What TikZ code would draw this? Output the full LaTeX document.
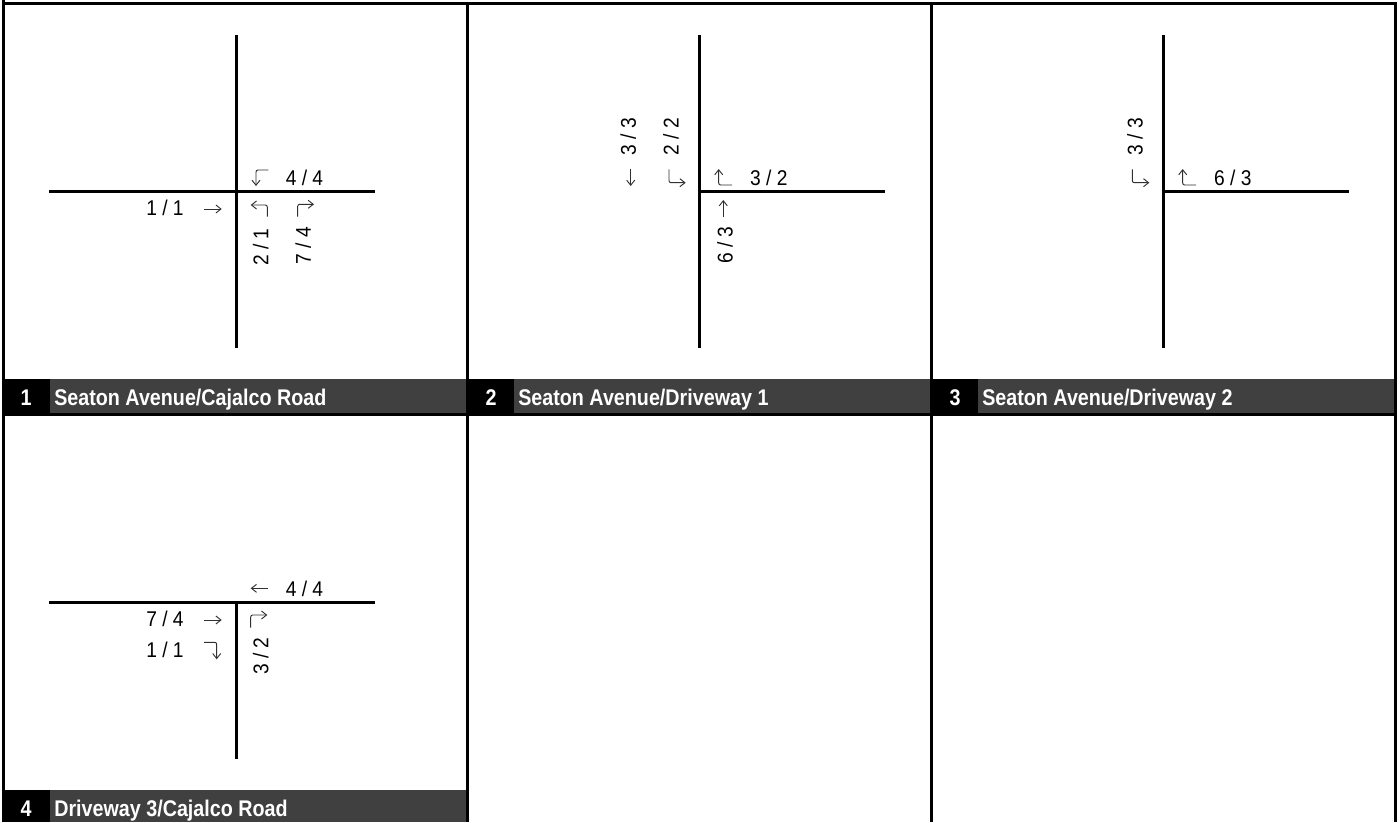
\documentclass[tikz,border=0pt]{standalone}
\usepackage{fontspec}
\setmainfont{Liberation Sans}
\newfontfamily\numfont[FakeStretch=0.9]{Liberation Sans}
\newfontfamily\titlefont[FakeStretch=0.87]{Liberation Sans Bold}
\usetikzlibrary{arrows.meta}
\definecolor{bargray}{HTML}{404040}
\definecolor{arrowgray}{HTML}{303030}
\tikzset{
  x=0.75pt,y=-0.75pt,
  road/.style={line width=2.25pt,black},
  frameline/.style={line width=2.25pt,black},
  turn/.style={line width=0.7pt,arrowgray,rounded corners=1.5pt,-{Straight Barb[length=3.8pt,width=6pt,line width=0.7pt]}},
  vol/.style={inner sep=0,font=\fontsize{16}{16}\selectfont\numfont},
  volv/.style={vol,rotate=90},
  numlab/.style={inner sep=0,anchor=base,text=white,font=\fontsize{17}{17}\selectfont\titlefont},
  titlelab/.style={inner sep=0,anchor=base west,text=white,font=\fontsize{17}{17}\selectfont\titlefont},
}
\begin{document}
\begin{tikzpicture}
\useasboundingbox (0,0) rectangle (1400,822);
\fill[white] (0,0) rectangle (1400,822);
% title bars
\fill[black] (2,379) rectangle (1397,416);
\fill[bargray] (50,379) rectangle (466,413);
\fill[bargray] (514,379) rectangle (930,413);
\fill[bargray] (978,379) rectangle (1394,413);
\fill[black] (2,790) rectangle (50,822);
\fill[bargray] (50,790) rectangle (466,822);
% frame
\draw[frameline] (2,3.5) -- (1397,3.5);
\draw[frameline] (3.5,0) -- (3.5,822);
\draw[frameline] (467.5,2) -- (467.5,822);
\draw[frameline] (931.5,2) -- (931.5,822);
\draw[frameline] (1395.5,2) -- (1395.5,822);
% titles
\node[numlab] (n1) at (26,405) {1};
\node[titlelab] (t1) at (54,405) {Seaton Avenue/Cajalco Road};
\node[numlab] (n2) at (491,405) {2};
\node[titlelab] (t2) at (518,405) {Seaton Avenue/Driveway 1};
\node[numlab] (n3) at (955,405) {3};
\node[titlelab] (t3) at (982,405) {Seaton Avenue/Driveway 2};
\node[numlab] (n4) at (26,816.5) {4};
\node[titlelab] (t4) at (54,816.5) {Driveway 3/Cajalco Road};
% panel 1
\draw[road] (236,35) -- (236,348);
\draw[road] (49,191) -- (375,191);
\draw[turn] (268.3,170) -- (256,170) -- (256,186);
\node[vol] (a1) at (304.5,177.4) {4 / 4};
\node[vol] (a2) at (165,208) {1 / 1};
\draw[turn] (204,209) -- (221.7,209);
\draw[turn] (267.3,216.7) -- (267.3,205) -- (250.7,205);
\draw[turn] (297.7,216.7) -- (297.7,204.3) -- (314,204.3);
\node[volv] (a3) at (260.7,247) {2 / 1};
\node[volv] (a4) at (303.3,245.7) {7 / 4};
% panel 2
\draw[road] (699,35) -- (699,348);
\draw[road] (699,191) -- (885,191);
\node[volv] (b1) at (628.3,136.7) {3 / 3};
\node[volv] (b2) at (671,136.7) {2 / 2};
\draw[turn] (630.7,169) -- (630.7,186);
\draw[turn] (669,169.3) -- (669,182.7) -- (685.7,182.7);
\draw[turn] (732,185) -- (718.7,185) -- (718.7,169);
\node[vol] (b3) at (768.8,177.4) {3 / 2};
\draw[turn] (723.3,217.3) -- (723.3,200);
\node[volv] (b4) at (725,245.3) {6 / 3};
% panel 3
\draw[road] (1163.5,35) -- (1163.5,348);
\draw[road] (1163.5,191) -- (1349,191);
\node[volv] (c1) at (1135,136.7) {3 / 3};
\draw[turn] (1132.3,169.3) -- (1132.3,182.7) -- (1149.3,182.7);
\draw[turn] (1196,185) -- (1182.7,185) -- (1182.7,169);
\node[vol] (c2) at (1232.8,177.4) {6 / 3};
% panel 4
\draw[road] (49,602.5) -- (375,602.5);
\draw[road] (236,602.5) -- (236,759);
\draw[turn] (267.7,588.3) -- (250.7,588.3);
\node[vol] (d1) at (304.5,588.4) {4 / 4};
\node[vol] (d2) at (165,619) {7 / 4};
\draw[turn] (204,620) -- (221.7,620);
\node[vol] (d3) at (165,649.7) {1 / 1};
\draw[turn] (204,642.3) -- (216.7,642.3) -- (216.7,659.3);
\draw[turn] (250.7,627.7) -- (250.7,615) -- (267.3,615);
\node[volv] (d4) at (260.7,656.2) {3 / 2};
\end{tikzpicture}
\end{document}
